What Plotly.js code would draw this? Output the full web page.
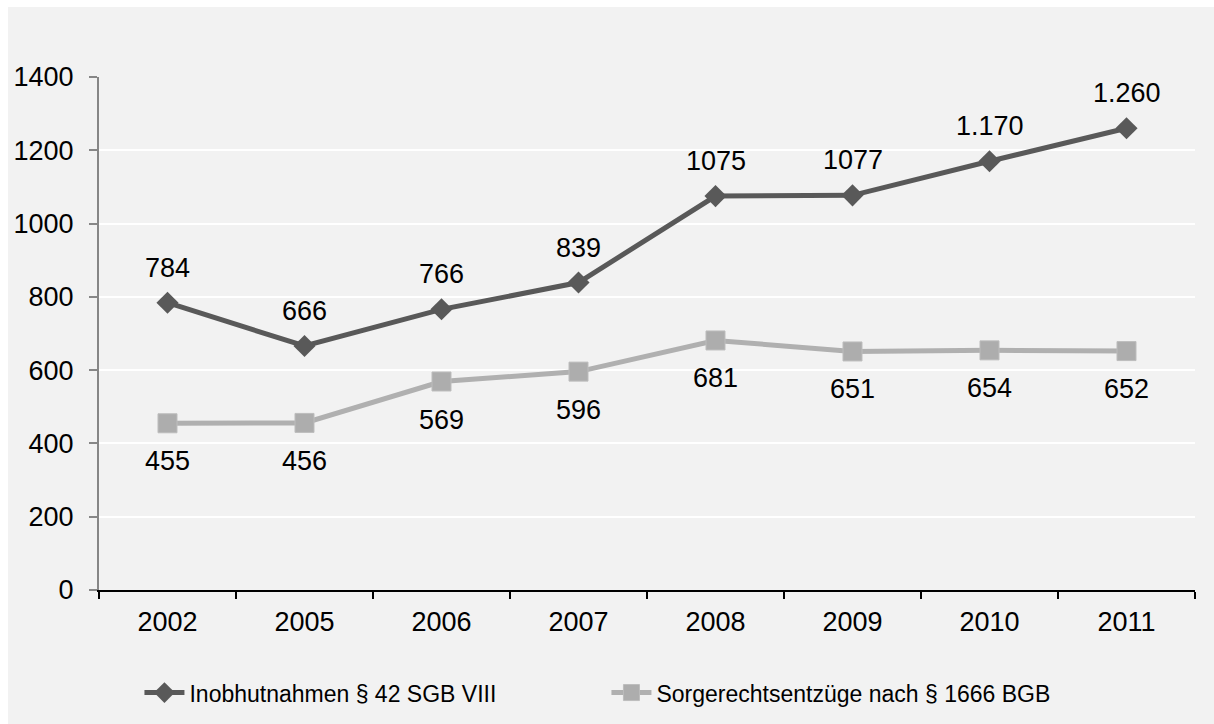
<!DOCTYPE html>
<html>
<head>
<meta charset="utf-8">
<script src="https://cdn.plot.ly/plotly-3.0.1.min.js"></script>
<style>
html,body{margin:0;padding:0;background:#ffffff;}
#chart{position:absolute;left:8px;top:7px;width:1206px;height:717px;}
</style>
</head>
<body>
<div id="chart"></div>
<script>
const years = ["2002","2005","2006","2007","2008","2009","2010","2011"];
const inobhut = [784, 666, 766, 839, 1075, 1077, 1170, 1260];
const inobhutLabels = ["784","666","766","839","1075","1077","1.170","1.260"];
const sorge = [455, 456, 569, 596, 681, 651, 654, 652];
const sorgeLabels = ["455","456","569","596","681","651","654","652"];
const name1 = "Inobhutnahmen § 42 SGB VIII";
const name2 = "Sorgerechtsentzüge nach § 1666 BGB";

const labelFont = {family: "Liberation Sans, Arial, sans-serif", size: 27, color: "#000000"};

const traces = [
  {x: years, y: inobhut, name: name1, type: "scatter", mode: "lines+markers",
   line: {color: "#595959", width: 5},
   marker: {symbol: "diamond", size: 17, color: "#595959"}},
  {x: years, y: sorge, name: name2, type: "scatter", mode: "lines+markers",
   line: {color: "#b0b0b0", width: 5},
   marker: {symbol: "square", size: 19, color: "#adadad", line: {color: "#bdbdbd", width: 1}}}
];

const annotations = [];
years.forEach((yr, i) => {
  annotations.push({x: i, y: inobhut[i], text: inobhutLabels[i], showarrow: false,
    yshift: 35, font: labelFont, xref: "x", yref: "y"});
  annotations.push({x: i, y: sorge[i], text: sorgeLabels[i], showarrow: false,
    yshift: -38, font: labelFont, xref: "x", yref: "y"});
});

const layout = {
  width: 1206, height: 717,
  paper_bgcolor: "#f2f2f2", plot_bgcolor: "#f2f2f2",
  margin: {l: 91, r: 19, t: 70, b: 134, autoexpand: false},
  showlegend: true,
  legend: {orientation: "h", x: 0.463, xanchor: "center", y: -0.2, yanchor: "middle",
    font: {family: "Liberation Sans, Arial, sans-serif", size: 23, color: "#000000"},
    bgcolor: "rgba(0,0,0,0)", entrywidth: 412, itemwidth: 40},
  xaxis: {type: "category", range: [-0.5, years.length - 0.5], autorange: false,
    automargin: false,
    showgrid: false, zeroline: false,
    showline: true, linecolor: "#000000", linewidth: 2,
    ticks: "outside", ticklen: 7, tickwidth: 2, tickcolor: "#000000", tickson: "boundaries",
    tickangle: 0, ticklabelstandoff: 7,
    tickfont: {family: "Liberation Sans, Arial, sans-serif", size: 27, color: "#000000"},
    fixedrange: true},
  yaxis: {range: [0, 1400], autorange: false, dtick: 200, tick0: 0,
    automargin: false,
    showgrid: true, gridcolor: "#ffffff", gridwidth: 2, zeroline: false,
    showline: true, linecolor: "#868686", linewidth: 2,
    ticks: "outside", ticklen: 8, tickwidth: 2, tickcolor: "#868686",
    ticklabelstandoff: 10,
    tickfont: {family: "Liberation Sans, Arial, sans-serif", size: 27, color: "#000000"},
    fixedrange: true},
  annotations: annotations
};

Plotly.newPlot("chart", traces, layout, {displayModeBar: false, staticPlot: true});
</script>
</body>
</html>
